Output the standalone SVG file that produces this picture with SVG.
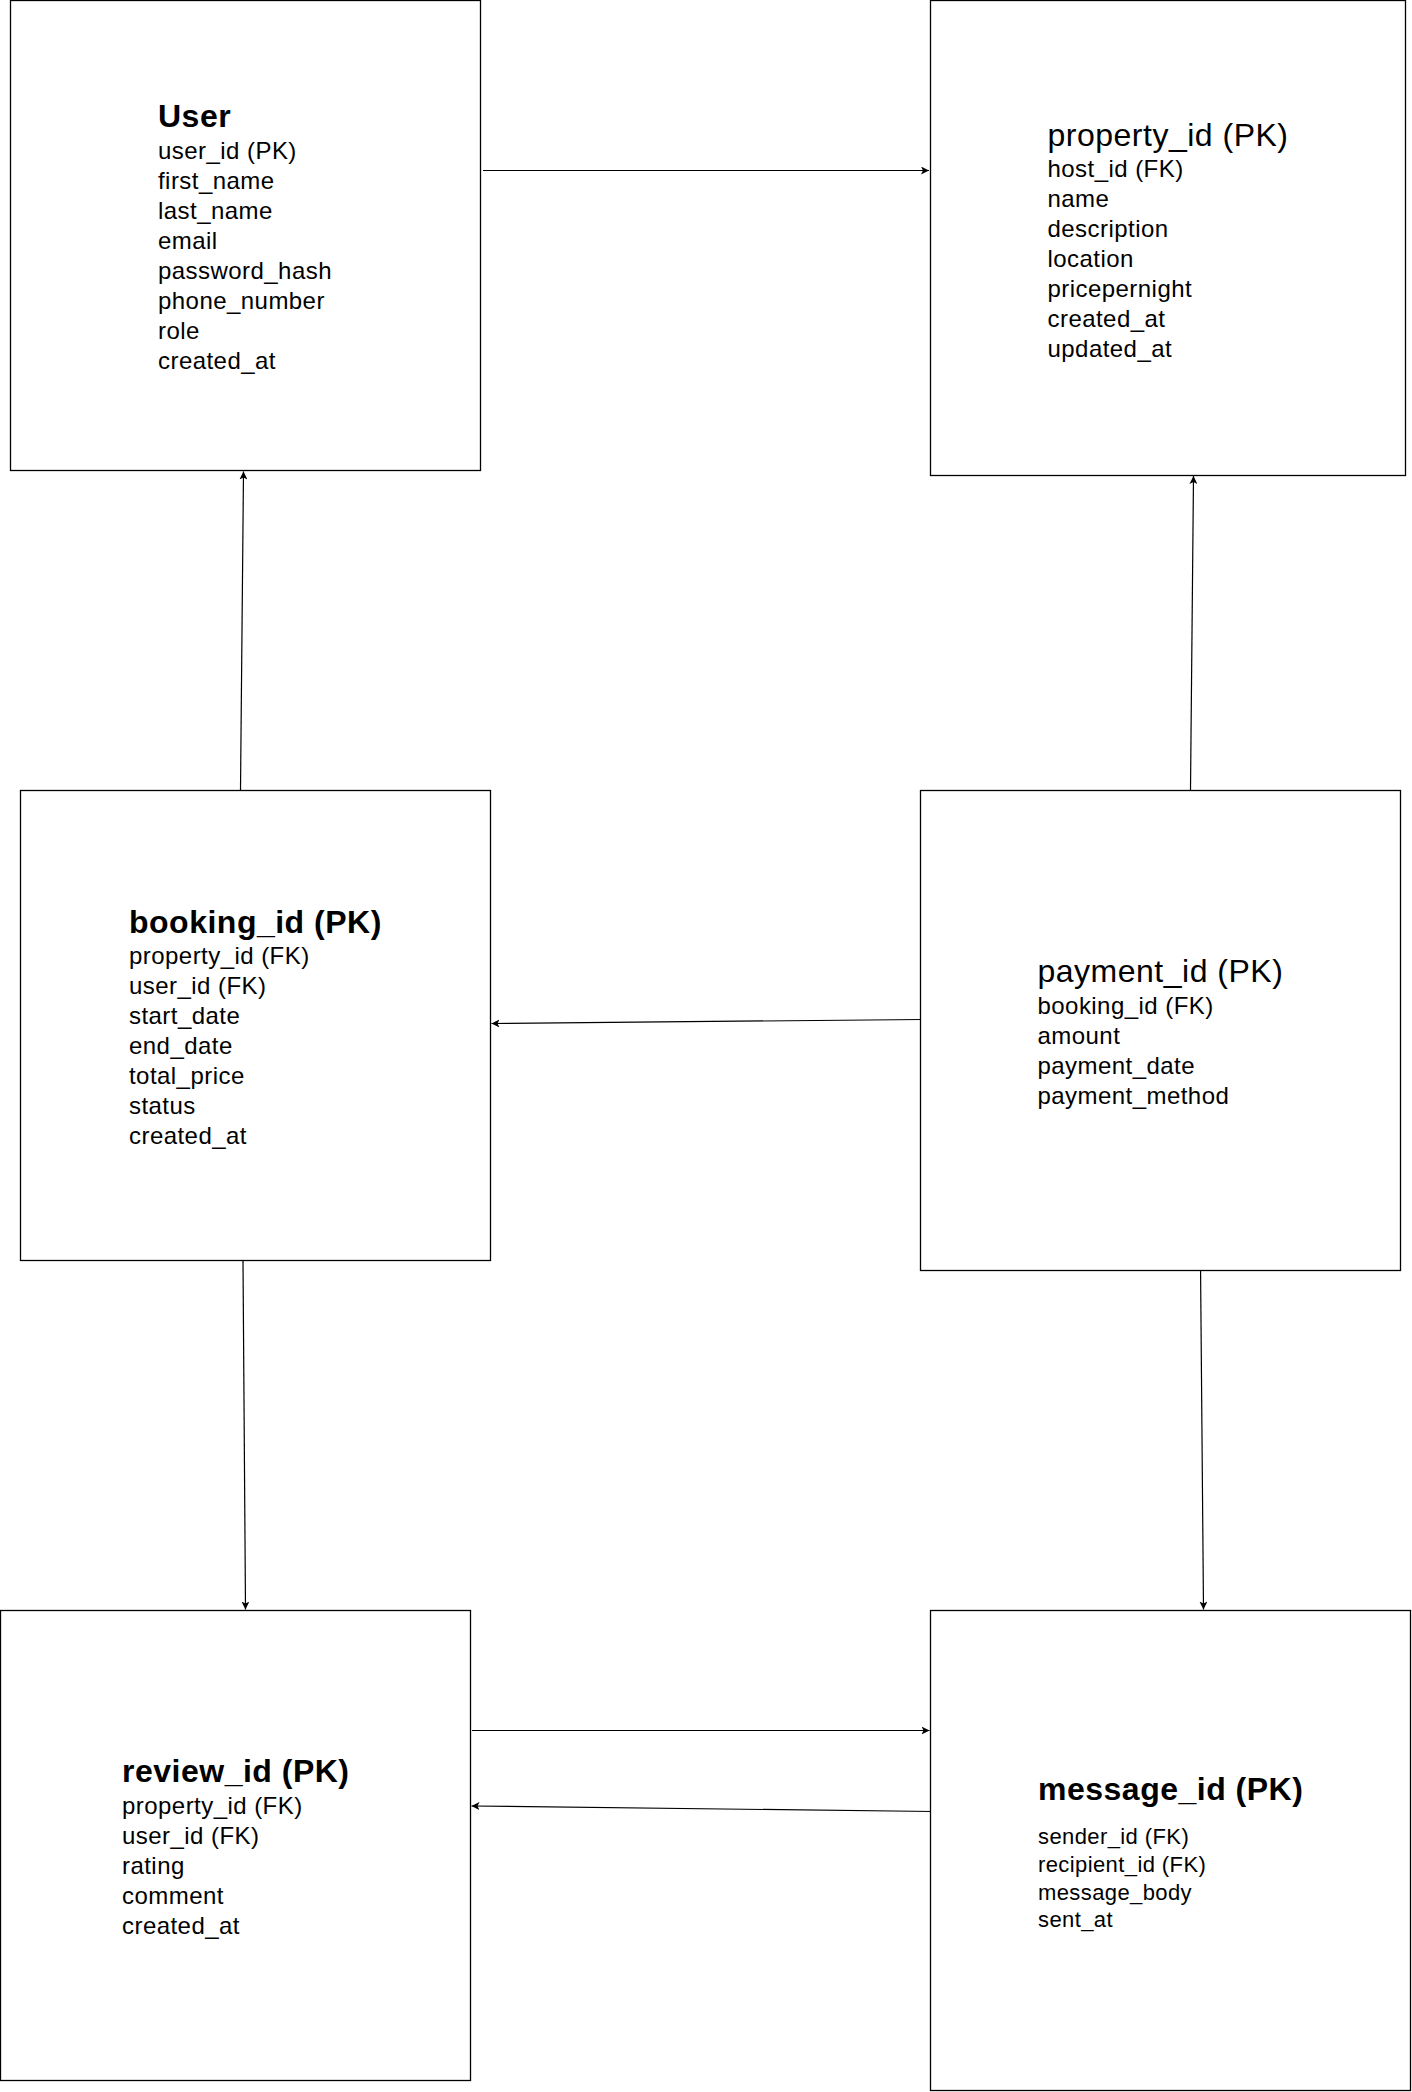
<svg xmlns="http://www.w3.org/2000/svg" width="1412" height="2092" viewBox="0 0 1412 2092">
<style>
.box{fill:#fff;stroke:#000;stroke-width:1.3}
.t{font-family:"Liberation Sans",Arial,sans-serif;fill:#000}
.f{font-size:24px;letter-spacing:0.45px}
.fs{font-size:22px;letter-spacing:0.4px}
.h{font-size:32px;letter-spacing:0.5px}
.b{font-weight:bold}
.c{fill:none;stroke:#000;stroke-width:1.2}
</style>
<defs>
<marker id="arr" markerWidth="10" markerHeight="8" refX="8" refY="4" orient="auto" markerUnits="userSpaceOnUse">
<path d="M0,0 L8,4 L0,8 L2,4 z" fill="#000"/>
</marker>
</defs>
<rect width="1412" height="2092" fill="#fff"/>
<g id="connectors">
<line class="c" x1="483" y1="170.5" x2="929" y2="170.5" marker-end="url(#arr)"/>
<line class="c" x1="240.5" y1="790" x2="243.5" y2="471.5" marker-end="url(#arr)"/>
<line class="c" x1="1190.5" y1="790" x2="1193.5" y2="476" marker-end="url(#arr)"/>
<line class="c" x1="922.5" y1="1019.5" x2="491.5" y2="1023.5" marker-end="url(#arr)"/>
<line class="c" x1="243" y1="1261" x2="245.5" y2="1609.5" marker-end="url(#arr)"/>
<line class="c" x1="1200.5" y1="1263" x2="1203.5" y2="1609.5" marker-end="url(#arr)"/>
<line class="c" x1="472" y1="1730.5" x2="929.5" y2="1730.5" marker-end="url(#arr)"/>
<line class="c" x1="933" y1="1811.5" x2="471.5" y2="1806" marker-end="url(#arr)"/>
</g>
<g id="user">
<rect class="box" x="10.5" y="0.5" width="470" height="470"/>
<text class="t h b" x="158" y="127">User</text>
<text class="t f" x="158" y="159">user_id (PK)</text>
<text class="t f" x="158" y="189">first_name</text>
<text class="t f" x="158" y="219">last_name</text>
<text class="t f" x="158" y="249">email</text>
<text class="t f" x="158" y="279">password_hash</text>
<text class="t f" x="158" y="309">phone_number</text>
<text class="t f" x="158" y="339">role</text>
<text class="t f" x="158" y="369">created_at</text>
</g>
<g id="property">
<rect class="box" x="930.5" y="0.5" width="475" height="475"/>
<text class="t h" x="1047.5" y="146">property_id (PK)</text>
<text class="t f" x="1047.5" y="177">host_id (FK)</text>
<text class="t f" x="1047.5" y="207">name</text>
<text class="t f" x="1047.5" y="237">description</text>
<text class="t f" x="1047.5" y="267">location</text>
<text class="t f" x="1047.5" y="297">pricepernight</text>
<text class="t f" x="1047.5" y="327">created_at</text>
<text class="t f" x="1047.5" y="357">updated_at</text>
</g>
<g id="booking">
<rect class="box" x="20.5" y="790.5" width="470" height="470"/>
<text class="t h b" x="129" y="933">booking_id (PK)</text>
<text class="t f" x="129" y="963.5">property_id (FK)</text>
<text class="t f" x="129" y="993.5">user_id (FK)</text>
<text class="t f" x="129" y="1023.5">start_date</text>
<text class="t f" x="129" y="1053.5">end_date</text>
<text class="t f" x="129" y="1083.5">total_price</text>
<text class="t f" x="129" y="1113.5">status</text>
<text class="t f" x="129" y="1143.5">created_at</text>
</g>
<g id="payment">
<rect class="box" x="920.5" y="790.5" width="480" height="480"/>
<text class="t h" x="1037.5" y="982">payment_id (PK)</text>
<text class="t f" x="1037.5" y="1013.5">booking_id (FK)</text>
<text class="t f" x="1037.5" y="1043.5">amount</text>
<text class="t f" x="1037.5" y="1073.5">payment_date</text>
<text class="t f" x="1037.5" y="1103.5">payment_method</text>
</g>
<g id="review">
<rect class="box" x="0.5" y="1610.5" width="470" height="470"/>
<text class="t h b" x="122" y="1782">review_id (PK)</text>
<text class="t f" x="122" y="1813.5">property_id (FK)</text>
<text class="t f" x="122" y="1843.5">user_id (FK)</text>
<text class="t f" x="122" y="1873.5">rating</text>
<text class="t f" x="122" y="1903.5">comment</text>
<text class="t f" x="122" y="1933.5">created_at</text>
</g>
<g id="message">
<rect class="box" x="930.5" y="1610.5" width="480" height="480"/>
<text class="t h b" x="1038" y="1800">message_id (PK)</text>
<text class="t fs" x="1038" y="1843.5">sender_id (FK)</text>
<text class="t fs" x="1038" y="1871.5">recipient_id (FK)</text>
<text class="t fs" x="1038" y="1899.5">message_body</text>
<text class="t fs" x="1038" y="1927">sent_at</text>
</g>
</svg>
